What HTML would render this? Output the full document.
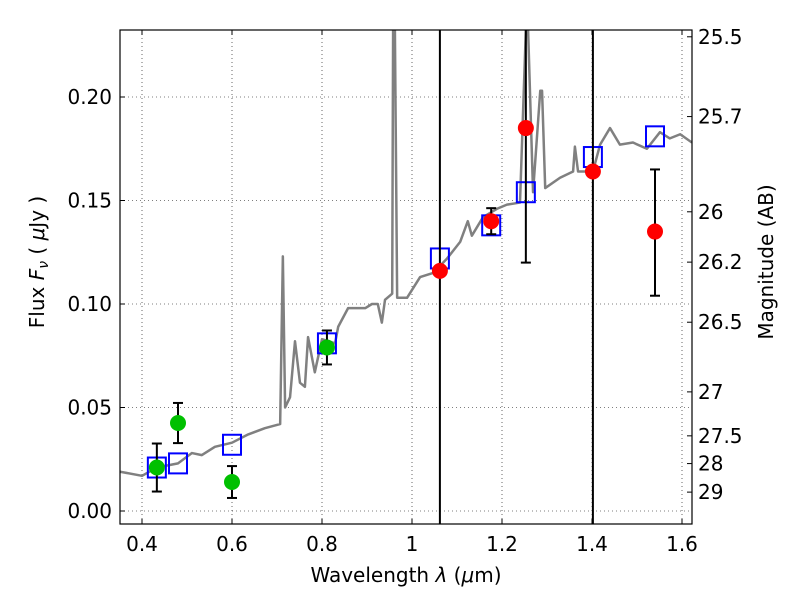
<!DOCTYPE html>
<html><head><meta charset="utf-8"><style>
html,body{margin:0;background:#fff;overflow:hidden}
svg{display:block}
svg text{font-family:"DejaVu Sans","Liberation Sans",sans-serif;font-size:20px;fill:#000}
</style></head><body>
<svg id="c" width="800" height="600"></svg>
<script>
const specWave=[0.351,0.4,0.433,0.48,0.511,0.533,0.562,0.6,0.636,0.673,0.707,0.713,0.718,0.729,0.74,0.751,0.762,0.769,0.784,0.8,0.829,0.836,0.858,0.896,0.911,0.924,0.933,0.94,0.956,0.958,0.962,0.967,0.989,1.018,1.047,1.078,1.107,1.124,1.133,1.158,1.189,1.211,1.24,1.253,1.258,1.269,1.285,1.289,1.296,1.329,1.358,1.362,1.369,1.402,1.418,1.44,1.462,1.491,1.522,1.551,1.573,1.596,1.622];
const specFlux=[0.019,0.017,0.021,0.023,0.028,0.027,0.031,0.033,0.037,0.040,0.042,0.123,0.050,0.055,0.082,0.062,0.060,0.084,0.067,0.083,0.081,0.089,0.098,0.098,0.100,0.100,0.091,0.102,0.105,0.245,0.245,0.103,0.103,0.113,0.115,0.122,0.130,0.140,0.133,0.142,0.146,0.148,0.149,0.245,0.245,0.154,0.203,0.203,0.156,0.161,0.164,0.176,0.164,0.164,0.177,0.185,0.177,0.178,0.175,0.183,0.180,0.182,0.178];
const greenWave=[0.433,0.48,0.6,0.811];
const greenFlux=[0.021,0.0425,0.014,0.079];
const greenErr=[0.0116,0.0097,0.0077,0.0082];
const redWave=[1.062,1.176,1.253,1.402,1.54];
const redFlux=[0.116,0.140,0.185,0.164,0.135];
const redErrLo=[0.5,0.0063,0.065,0.5,0.031];
const redErrHi=[0.5,0.0063,0.5,0.5,0.030];
const modelWave=[0.433,0.48,0.6,0.811,1.062,1.176,1.253,1.402,1.54];
const modelFlux=[0.021,0.023,0.032,0.081,0.122,0.138,0.154,0.171,0.181];
const xTicks=[0.4,0.6,0.8,1,1.2,1.4,1.6];
const xTickLabels=["0.4","0.6","0.8","1","1.2","1.4","1.6"];
const yTicks=[0,0.05,0.10,0.15,0.20];
const yTickLabels=["0.00","0.05","0.10","0.15","0.20"];
const magTicks=[25.5,25.7,26,26.2,26.5,27,27.5,28,29];

const L=120,R=692,T=30,B=524;
const X=v=>142+(v-0.4)*450;
const Y=v=>511-v*2070;
const svg=document.getElementById('c');
const NS='http://www.w3.org/2000/svg';
function mk(tag,at,parent){const e=document.createElementNS(NS,tag);for(const k in at)e.setAttribute(k,at[k]);(parent||svg).appendChild(e);return e;}
const defs=mk('defs',{});const cp=mk('clipPath',{id:'clip'},defs);mk('rect',{x:L,y:T,width:R-L,height:B-T},cp);
xTicks.forEach((t,i)=>{
 const g=mk('line',{x1:X(t),x2:X(t),y1:T,y2:B,stroke:'#000','stroke-width':0.6,'stroke-dasharray':'1,3'});
 
 
 mk('line',{x1:X(t),x2:X(t),y1:B,y2:B-5,stroke:'#000'});mk('line',{x1:X(t),x2:X(t),y1:T,y2:T+5,stroke:'#000'});
 const tx=mk('text',{x:X(t),y:B+27,'text-anchor':'middle'});tx.textContent=xTickLabels[i];
 
 
});
yTicks.forEach((t,i)=>{
 const g=mk('line',{x1:L,x2:R,y1:Y(t),y2:Y(t),stroke:'#000','stroke-width':0.6,'stroke-dasharray':'1,3'});
 
 
 mk('line',{x1:L,x2:L+5,y1:Y(t),y2:Y(t),stroke:'#000'});
 const tx=mk('text',{x:L-8,y:Y(t)+7,'text-anchor':'end'});tx.textContent=yTickLabels[i];
 
 
});
magTicks.forEach(m=>{
 const f=Math.pow(10,(23.9-m)/2.5);const y=Y(f);
 mk('line',{x1:R,x2:R-5,y1:y,y2:y,stroke:'#000'});
 const tx=mk('text',{x:R+6,y:y+7});tx.textContent=String(m);
 
 
});
const pg=mk('g',{'clip-path':'url(#clip)'});
const yMin=(511-B)/2070, yMax=(511-T)/2070;
const clampF=v=>Math.max(yMin,Math.min(yMax,v));
const sp=mk('polyline',{points:specWave.map((w,i)=>X(w)+','+Y(clampF(specFlux[i])+0.0)).join(' '),fill:'none',stroke:'#808080','stroke-width':2.5,'stroke-linejoin':'round'},pg);


function err(x,lo,hi,cl,ch){
 mk('line',{x1:x,x2:x,y1:Y(clampF(lo)),y2:Y(clampF(hi)),stroke:'#000','stroke-width':2},pg);
 if(cl)mk('line',{x1:x-5,x2:x+5,y1:Y(lo),y2:Y(lo),stroke:'#000','stroke-width':2},pg);
 if(ch)mk('line',{x1:x-5,x2:x+5,y1:Y(hi),y2:Y(hi),stroke:'#000','stroke-width':2},pg);
}
modelWave.forEach((w,i)=>{
 const r=mk('rect',{x:X(w)-9,y:Y(modelFlux[i])-10,width:18,height:20,fill:'none',stroke:'#0000ff','stroke-width':2},pg);
 
 
});
greenWave.forEach((w,i)=>{
 err(X(w),greenFlux[i]-greenErr[i],greenFlux[i]+greenErr[i],true,true);
 const c=mk('circle',{cx:X(w),cy:Y(greenFlux[i]),r:8,fill:'#00c000'},pg);
 
 
});
redWave.forEach((w,i)=>{
 const lo=redFlux[i]-redErrLo[i],hi=redFlux[i]+redErrHi[i];
 err(X(w),lo,hi,lo>yMin,hi<yMax);
 const c=mk('circle',{cx:X(w),cy:Y(redFlux[i]),r:8,fill:'#ff0000'},pg);
 
 
});
const fr=mk('rect',{x:L,y:T,width:R-L,height:B-T,fill:'none',stroke:'#000','stroke-width':1.2});


const xl=mk('text',{x:406,y:582,'text-anchor':'middle'});xl.innerHTML='Wavelength  <tspan font-style="italic">λ</tspan> (<tspan font-style="italic">μ</tspan>m)';


const yl=mk('text',{x:0,y:0,'text-anchor':'middle',transform:'translate(44,262) rotate(-90)'});yl.innerHTML='Flux  <tspan font-style="italic">F</tspan><tspan font-style="italic" font-size="14" dy="4">ν</tspan><tspan dy="-4">  (  </tspan><tspan font-style="italic">μ</tspan>Jy )';


const rl=mk('text',{x:0,y:0,'text-anchor':'middle',transform:'translate(773,262) rotate(-90)'});rl.textContent='Magnitude (AB)';


</script>
</body></html>
